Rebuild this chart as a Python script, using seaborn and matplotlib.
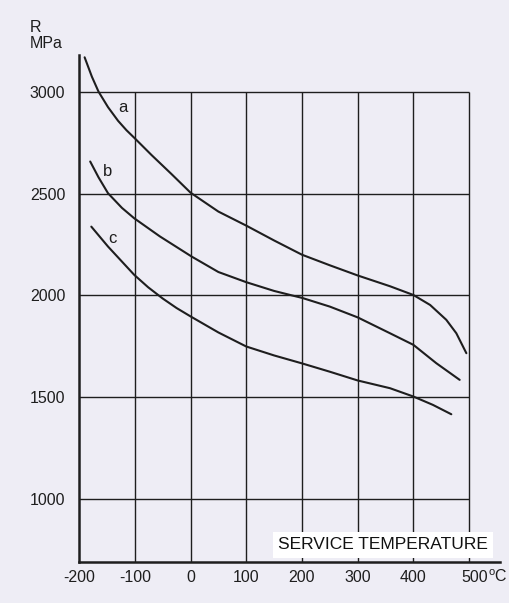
import pandas as pd
import matplotlib
matplotlib.use("Agg")
import matplotlib.pyplot as plt
import matplotlib.transforms as mtransforms
import seaborn as sns

# Values (temperature in °C, strength R in MPa)
temp_a = [-190, -177, -165, -148, -130, -115, -100, -70, -34, 0, 50, 100, 150, 200, 250, 300, 358, 400, 430, 459, 477, 495]
r_a = [3170, 3075, 3001, 2925, 2858, 2812, 2772, 2690, 2596, 2505, 2412, 2343, 2270, 2200, 2148, 2098, 2045, 2002, 1953, 1880, 1814, 1716]

temp_b = [-180, -165, -148, -123, -101, -55, 2, 50, 100, 150, 182, 200, 250, 300, 358, 400, 441, 483]
r_b = [2658, 2580, 2502, 2430, 2379, 2290, 2191, 2115, 2065, 2022, 2000, 1988, 1945, 1892, 1814, 1757, 1667, 1585]

temp_c = [-178, -148, -101, -76, -50, -25, 0, 50, 100, 150, 200, 250, 300, 358, 400, 435, 468]
r_c = [2338, 2240, 2101, 2040, 1985, 1938, 1897, 1818, 1749, 1705, 1666, 1625, 1582, 1544, 1503, 1462, 1416]

curve_names = ["a", "b", "c"]
label_pos = {"a": (-121, 2925), "b": (-149, 2608), "c": (-140, 2279)}

x_ticks = [-200, -100, 0, 100, 200, 300, 400, 500]
x_tick_labels = ["-200", "-100", "0", "100", "200", "300", "400", "500"]
y_ticks = [1000, 1500, 2000, 2500, 3000]

PAPER = "#EEEDF5"
INK = "#1E1E1E"


def build_frame():
    """Put the three curves in one long table."""
    parts = []
    for name, t, r in zip(curve_names, [temp_a, temp_b, temp_c], [r_a, r_b, r_c]):
        parts.append(pd.DataFrame({"T": t, "R": r, "curve": name}))
    return pd.concat(parts, ignore_index=True)


def plot_chart(df):
    sns.set_style("white")
    plt.rcParams["font.family"] = ["Liberation Sans", "DejaVu Sans"]
    plt.rcParams["mathtext.fontset"] = "custom"
    plt.rcParams["mathtext.rm"] = "Liberation Sans"

    fig = plt.figure(figsize=(5.1, 6.03), dpi=100, facecolor=PAPER)
    ax = fig.add_axes([0.155, 0.068, 0.825, 0.841])
    ax.set_facecolor(PAPER)

    ax.set_xlim(-200, 555)
    ax.set_ylim(690, 3182)

    # grid box only inside -200..500 / bottom..3000
    ax.vlines(x_ticks[1:], 690, 3000, color=INK, linewidth=1.0, zorder=1)
    ax.hlines(y_ticks, -200, 500, color=INK, linewidth=1.0, zorder=1)

    sns.lineplot(data=df, x="T", y="R", units="curve", estimator=None, sort=False,
                 color=INK, linewidth=1.5, ax=ax, zorder=3)

    for name, (tx, ry) in label_pos.items():
        ax.text(tx, ry, name, fontsize=12, color=INK, ha="center", va="center")

    sns.despine(ax=ax, top=True, right=True)
    for side in ["left", "bottom"]:
        ax.spines[side].set_color(INK)
        ax.spines[side].set_linewidth(1.8)

    ax.set_xticks(x_ticks)
    ax.set_xticklabels(x_tick_labels)
    ax.set_yticks(y_ticks)
    ax.set_yticklabels([str(v) for v in y_ticks])
    ax.tick_params(axis="both", length=0, labelsize=11.5, colors=INK)
    ax.tick_params(axis="y", pad=10)
    ax.tick_params(axis="x", pad=6)
    ax.set_xlabel("")
    ax.set_ylabel("")

    # shift the 500 label a little right, as in the original
    last = ax.get_xticklabels()[-1]
    last.set_transform(last.get_transform() + mtransforms.ScaledTranslation(6 / 100, 0, fig.dpi_scale_trans))
    fig.text(488 / 510, 1 - 577 / 603, r"$^{\rm o}$C", fontsize=11.5, color=INK, ha="left", va="center")

    fig.text(30 / 510, 1 - 28 / 603, "R", fontsize=11.5, color=INK, ha="left", va="center")
    fig.text(30 / 510, 1 - 44 / 603, "MPa", fontsize=11.5, color=INK, ha="left", va="center")

    ax.text(0.473, 0.034, "SERVICE TEMPERATURE", transform=ax.transAxes, fontsize=12.5,
            color="#111111", ha="left", va="center",
            bbox=dict(facecolor="white", edgecolor="none", pad=4))

    fig.savefig("out.png", dpi=100, facecolor=PAPER)


if __name__ == "__main__":
    df = build_frame()
    plot_chart(df)
